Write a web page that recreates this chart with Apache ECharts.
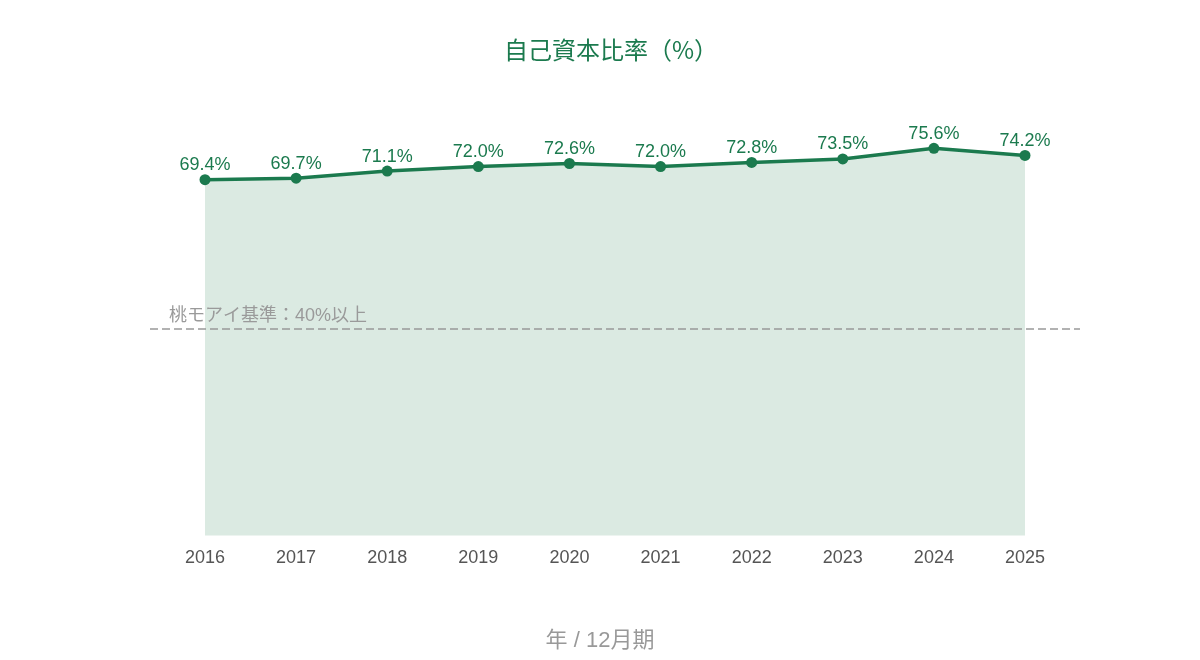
<!DOCTYPE html>
<html>
<head>
<meta charset="utf-8">
<script src="https://cdn.jsdelivr.net/npm/echarts@6/dist/echarts.min.js"></script>
<style>
	html, body { margin: 0; padding: 0; background: #fff; }
	#main { width: 1200px; height: 660px; }
</style>
</head>
<body>
<div id="main"></div>
<script>
// 年度
var years = ['2016', '2017', '2018', '2019', '2020', '2021', '2022', '2023', '2024', '2025'];
// 自己資本比率（%）
var ratios = [69.4, 69.7, 71.1, 72.0, 72.6, 72.0, 72.8, 73.5, 75.6, 74.2];
// 基準線
var baseLine = 40;
var baseLabel = '桃モアイ基準：40%以上';
// 軸名
var xName = '年 / 12月期';

var green = '#1b7a4e';
var font = '"Liberation Sans", "Noto Sans CJK JP", sans-serif';

var myChart = echarts.init(document.getElementById('main'), null, { renderer: 'canvas' });

var option = {
	backgroundColor: '#fff',
	animation: false,
	textStyle: { fontFamily: font },
	title: [{
		text: '自己資本比率（%）',
		left: 499,
		top: 33,
		textStyle: { color: green, fontSize: 24, fontWeight: 'normal', fontFamily: '"Noto Sans CJK TC", "Noto Sans CJK JP", sans-serif' }
	}, {
		// x軸の名前（キャンバス中央）
		text: xName,
		left: 'center',
		top: 630,
		padding: 0,
		textStyle: { color: '#999', fontSize: 22, fontWeight: 'normal', fontFamily: font }
	}],
	grid: [
		// 折れ線用
		{ left: 205, right: 175, top: 25, bottom: 124.5 },
		// 基準線用（少し広め）
		{ left: 150, right: 120, top: 25, bottom: 124.5 }
	],
	xAxis: [{
		type: 'category',
		gridIndex: 0,
		data: years,
		boundaryGap: false,
		axisLine: { show: false },
		axisTick: { show: false },
		axisLabel: { color: '#555', fontSize: 18, margin: 14, fontFamily: font }
	}, {
		type: 'value',
		gridIndex: 1,
		min: 0,
		max: 1,
		show: false
	}],
	yAxis: [{
		type: 'value',
		gridIndex: 0,
		min: -1,
		max: 100,
		show: false
	}, {
		type: 'value',
		gridIndex: 1,
		min: -1,
		max: 100,
		show: false
	}],
	series: [{
		type: 'line',
		xAxisIndex: 0,
		yAxisIndex: 0,
		data: ratios,
		symbol: 'circle',
		symbolSize: 11,
		lineStyle: { color: green, width: 3.5 },
		itemStyle: { color: green },
		areaStyle: { color: '#dbeae2', opacity: 1, origin: 'start' },
		label: {
			show: true,
			position: 'top',
			distance: 0,
			color: green,
			fontSize: 18,
			fontFamily: font,
			formatter: function(p) {
				return p.value.toFixed(1) + '%';
			}
		},
		z: 3
	}, {
		type: 'line',
		xAxisIndex: 1,
		yAxisIndex: 1,
		data: [],
		markLine: {
			silent: true,
			symbol: ['none', 'none'],
			lineStyle: { color: '#999', type: [8, 4], width: 1.5 },
			label: {
				show: true,
				position: 'insideStartTop',
				distance: [19, 3],
				color: '#9a9a9a',
				fontSize: 18,
				fontFamily: font,
				formatter: baseLabel
			},
			data: [{ yAxis: baseLine }]
		},
		z: 4
	}]
};

myChart.setOption(option);
</script>
</body>
</html>
